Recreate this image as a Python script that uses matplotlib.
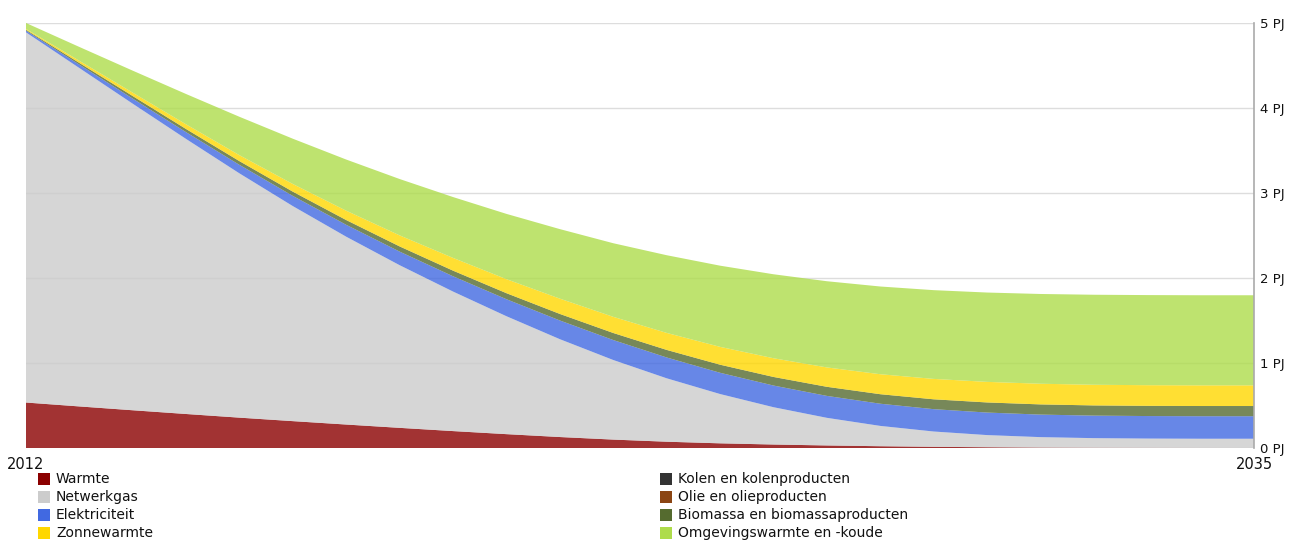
import matplotlib
matplotlib.use("Agg")
import matplotlib.pyplot as plt
from matplotlib.patches import Rectangle

plt.rcParams['font.family'] = ['DejaVu Sans']

years = list(range(2012, 2036))

warmte = [0.535, 0.489, 0.444, 0.400, 0.357, 0.316, 0.276, 0.237, 0.199, 0.163, 0.129, 0.099,
          0.074, 0.055, 0.041, 0.030, 0.021, 0.014, 0.009, 0.005, 0.003, 0.002, 0.001, 0.0]
netwerkgas = [4.355, 3.981, 3.606, 3.235, 2.873, 2.529, 2.209, 1.913, 1.641, 1.387, 1.151, 0.936,
              0.746, 0.580, 0.439, 0.325, 0.239, 0.180, 0.143, 0.123, 0.113, 0.109, 0.108, 0.109]
elektriciteit = [0.02, 0.04, 0.06, 0.08, 0.10, 0.12, 0.14, 0.16, 0.18, 0.20, 0.22, 0.235,
                 0.245, 0.25, 0.255, 0.258, 0.261, 0.263, 0.265, 0.265, 0.265, 0.265, 0.265, 0.265]
kolen = [0.0] * 24
olie = [0.0] * 24
biomassa = [0.01, 0.02, 0.03, 0.037, 0.044, 0.05, 0.056, 0.061, 0.066, 0.071, 0.077, 0.083,
            0.089, 0.095, 0.101, 0.107, 0.112, 0.116, 0.119, 0.12, 0.12, 0.12, 0.12, 0.12]
zonnewarmte = [0.01, 0.025, 0.04, 0.055, 0.07, 0.09, 0.11, 0.13, 0.15, 0.165, 0.18, 0.19,
               0.20, 0.21, 0.22, 0.228, 0.235, 0.24, 0.242, 0.243, 0.243, 0.243, 0.243, 0.243]
omgevingswarmte = [0.07, 0.163, 0.259, 0.357, 0.452, 0.533, 0.602, 0.663, 0.716, 0.768, 0.818, 0.866,
                   0.914, 0.955, 0.988, 1.014, 1.032, 1.044, 1.051, 1.056, 1.059, 1.06, 1.06, 1.06]

names = ["Warmte", "Netwerkgas", "Elektriciteit", "Kolen en kolenproducten",
         "Olie en olieproducten", "Biomassa en biomassaproducten", "Zonnewarmte",
         "Omgevingswarmte en -koude"]
colors = ["#8B0000", "#CCCCCC", "#4169E1", "#333333", "#8B4513", "#556B2F", "#FFD700", "#AEDC4B"]
series = [warmte, netwerkgas, elektriciteit, kolen, olie, biomassa, zonnewarmte, omgevingswarmte]

yticks = [0, 1, 2, 3, 4, 5]
ytick_labels = ["0 PJ", "1 PJ", "2 PJ", "3 PJ", "4 PJ", "5 PJ"]
x_labels = ["2012", "2035"]

fig = plt.figure(figsize=(13, 5.41), dpi=100)
ax = fig.add_axes([0.02, 0.1719, 0.9446, 0.7856])

ax.stackplot(years, *series, colors=colors, alpha=0.8, linewidth=0, zorder=2)

ax.set_xlim(years[0], years[-1])
ax.set_ylim(0, 5)
ax.set_yticks(yticks)
ax.set_yticklabels(ytick_labels)
ax.yaxis.tick_right()
ax.tick_params(axis='y', length=0, pad=4, labelsize=9.5, colors='#111111')
ax.set_xticks([])
for y in yticks:
    ax.axhline(y, color='#DDDDDD', lw=1, zorder=1)
for s in ['top', 'left', 'bottom']:
    ax.spines[s].set_visible(False)
ax.spines['right'].set_color('#AAAAAA')
ax.spines['right'].set_linewidth(1.2)

# x labels at ends
ax.text(years[0], -0.19, x_labels[0], ha='center', va='center', fontsize=10.5, color='#111111')
ax.text(years[-1], -0.19, x_labels[1], ha='center', va='center', fontsize=10.5, color='#111111')

# manual legend (two columns)
W, H = 1300, 541
col_x = [38, 660]
row_y = [479, 497, 515, 533]
order_left = [0, 1, 2, 6]
order_right = [3, 4, 5, 7]
for ci, idxs in enumerate([order_left, order_right]):
    for ri, idx in enumerate(idxs):
        x0 = col_x[ci]
        yc = row_y[ri]
        fig.patches.append(Rectangle((x0 / W, 1 - (yc + 6) / H), 12 / W, 12 / H,
                                     transform=fig.transFigure, facecolor=colors[idx],
                                     edgecolor='none'))
        fig.text((x0 + 18) / W, 1 - yc / H, names[idx], ha='left', va='center',
                 fontsize=10, color='#111111')

fig.savefig("out.png", dpi=100)
